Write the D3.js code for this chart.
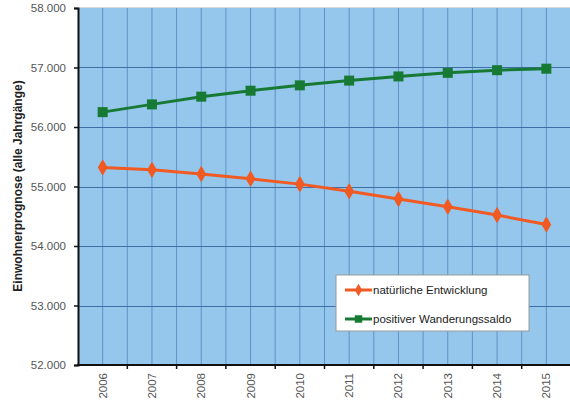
<!DOCTYPE html>
<html>
<head>
<meta charset="utf-8">
<script src="https://cdn.jsdelivr.net/npm/d3@7"></script>
<style>
  body { margin: 0; background: #fff; }
  svg { display: block; font-family: "Liberation Sans", Arial, sans-serif; }
</style>
</head>
<body>
<div class="chart"></div>
<script>
// data
const YEARS = ["2006", "2007", "2008", "2009", "2010", "2011", "2012", "2013", "2014", "2015"];
const NATUERLICH = [55320, 55280, 55210, 55130, 55040, 54920, 54790, 54660, 54520, 54360];
const WANDERUNG = [56250, 56380, 56510, 56610, 56700, 56780, 56850, 56910, 56955, 56980];
const Y_TICKS = [52000, 53000, 54000, 55000, 56000, 57000, 58000];
const SERIES_NAMES = ["natürliche Entwicklung", "positiver Wanderungssaldo"];

const WIDTH = 570;
const HEIGHT = 401;
const PLOT = { left: 78, right: 571, top: 8, bottom: 365 };

const BG_BLUE = "#95c6eb";
const ORANGE = "#f15a22";
const GREEN = "#167a34";

const svg = d3.select(".chart")
  .append("svg")
  .attr("width", WIDTH)
  .attr("height", HEIGHT);

const xScale = d3.scaleBand()
  .domain(YEARS)
  .range([PLOT.left, PLOT.right])
  .padding(0);

const yScale = d3.scaleLinear()
  .domain([52000, 58000])
  .range([PLOT.bottom, PLOT.top]);

const fmt = d => d3.format(",.3f")(d / 1000).replace(",", "");

// plot background
svg.append("rect")
  .attr("x", PLOT.left)
  .attr("y", PLOT.top)
  .attr("width", PLOT.right - PLOT.left)
  .attr("height", PLOT.bottom - PLOT.top)
  .attr("fill", BG_BLUE);

svg.append("line")
  .attr("x1", PLOT.left).attr("x2", PLOT.right)
  .attr("y1", PLOT.top - 0.5).attr("y2", PLOT.top - 0.5)
  .attr("stroke", "#d8d8d8");

// vertical grid: band edges and centres
const grid = svg.append("g").attr("class", "grid");
const vLines = [];
YEARS.forEach(y => {
  vLines.push(xScale(y));
  vLines.push(xScale(y) + xScale.bandwidth() / 2);
});
grid.selectAll(".vline")
  .data(vLines.filter(x => x > PLOT.left + 1))
  .join("line")
  .attr("class", "vline")
  .attr("x1", d => d).attr("x2", d => d)
  .attr("y1", PLOT.top).attr("y2", PLOT.bottom)
  .attr("stroke", "#5d93c9")
  .attr("stroke-width", 1);

grid.selectAll(".hline")
  .data(Y_TICKS.slice(1, -1))
  .join("line")
  .attr("class", "hline")
  .attr("x1", PLOT.left).attr("x2", PLOT.right)
  .attr("y1", d => Math.round(yScale(d)) + 0.5)
  .attr("y2", d => Math.round(yScale(d)) + 0.5)
  .attr("stroke", "#3e6ea3")
  .attr("stroke-width", 1.2);

// axes
const yAxis = svg.append("g")
  .attr("class", "axis y-axis")
  .attr("transform", `translate(${PLOT.left}, 0)`)
  .call(d3.axisLeft(yScale).tickValues(Y_TICKS).tickFormat(fmt).tickSize(4).tickPadding(8));
yAxis.select(".domain").attr("stroke", "#111").attr("stroke-width", 2);
yAxis.selectAll(".tick line").attr("stroke", "#111").attr("stroke-width", 1.5);
yAxis.selectAll(".tick text")
  .attr("fill", "#555")
  .attr("font-size", 11.5)
  .attr("font-family", "Liberation Sans, Arial, sans-serif");

const xAxis = svg.append("g")
  .attr("class", "axis x-axis")
  .attr("transform", `translate(0, ${PLOT.bottom})`);
xAxis.append("line")
  .attr("x1", PLOT.left - 1).attr("x2", PLOT.right)
  .attr("y1", 0).attr("y2", 0)
  .attr("stroke", "#111").attr("stroke-width", 2);
xAxis.selectAll(".xtick")
  .data(YEARS)
  .join("line")
  .attr("class", "xtick")
  .attr("x1", d => xScale(d) + xScale.bandwidth())
  .attr("x2", d => xScale(d) + xScale.bandwidth())
  .attr("y1", 0).attr("y2", 4)
  .attr("stroke", "#111").attr("stroke-width", 1.5);
xAxis.selectAll(".xlabel")
  .data(YEARS)
  .join("text")
  .attr("class", "xlabel")
  .attr("transform", d => `translate(${xScale(d) + xScale.bandwidth() / 2 + 4}, 8) rotate(-90)`)
  .attr("text-anchor", "end")
  .attr("font-size", 11.5)
  .attr("fill", "#555")
  .text(d => d);

// y axis title
svg.append("text")
  .attr("transform", `translate(22, 186) rotate(-90)`)
  .attr("text-anchor", "middle")
  .attr("font-size", 12)
  .attr("font-weight", "bold")
  .attr("fill", "#222")
  .text("Einwohnerprognose (alle Jahrgänge)");

// lines
const cx = d => xScale(d) + xScale.bandwidth() / 2;
const lineGen = d3.line()
  .x((d, i) => cx(YEARS[i]))
  .y(d => yScale(d));

svg.append("path")
  .datum(NATUERLICH)
  .attr("d", lineGen)
  .attr("fill", "none")
  .attr("stroke", ORANGE)
  .attr("stroke-width", 3);

svg.append("path")
  .datum(WANDERUNG)
  .attr("d", lineGen)
  .attr("fill", "none")
  .attr("stroke", GREEN)
  .attr("stroke-width", 3);

const diamond = d3.symbol().type(d3.symbolDiamond).size(55);

svg.append("g").selectAll("path")
  .data(NATUERLICH)
  .join("path")
  .attr("d", diamond)
  .attr("transform", (d, i) => `translate(${cx(YEARS[i])}, ${yScale(d)})`)
  .attr("fill", ORANGE)
  .attr("stroke", ORANGE)
  .attr("stroke-width", 1.5)
  .attr("stroke-linejoin", "round");

svg.append("g").selectAll("rect")
  .data(WANDERUNG)
  .join("rect")
  .attr("x", (d, i) => cx(YEARS[i]) - 5)
  .attr("y", d => yScale(d) - 5)
  .attr("width", 10)
  .attr("height", 10)
  .attr("fill", GREEN);

// legend
const legend = svg.append("g").attr("transform", "translate(336, 275)");
legend.append("rect")
  .attr("width", 193)
  .attr("height", 56)
  .attr("fill", "#fff")
  .attr("stroke", "#999");

const legendRows = legend.selectAll(".legend-row")
  .data(SERIES_NAMES)
  .join("g")
  .attr("class", "legend-row")
  .attr("transform", (d, i) => `translate(9, ${15 + i * 29})`);

legendRows.append("line")
  .attr("x1", 0).attr("x2", 27)
  .attr("stroke", (d, i) => i === 0 ? ORANGE : GREEN)
  .attr("stroke-width", 3);

legendRows.append("path")
  .attr("d", (d, i) => i === 0 ? d3.symbol().type(d3.symbolDiamond).size(45)() : d3.symbol().type(d3.symbolSquare).size(56)())
  .attr("transform", "translate(13.5, 0)")
  .attr("fill", (d, i) => i === 0 ? ORANGE : GREEN);

legendRows.append("text")
  .attr("x", 28)
  .attr("y", 4)
  .attr("font-size", 11.5)
  .attr("fill", "#222")
  .text(d => d);
</script>
</body>
</html>
